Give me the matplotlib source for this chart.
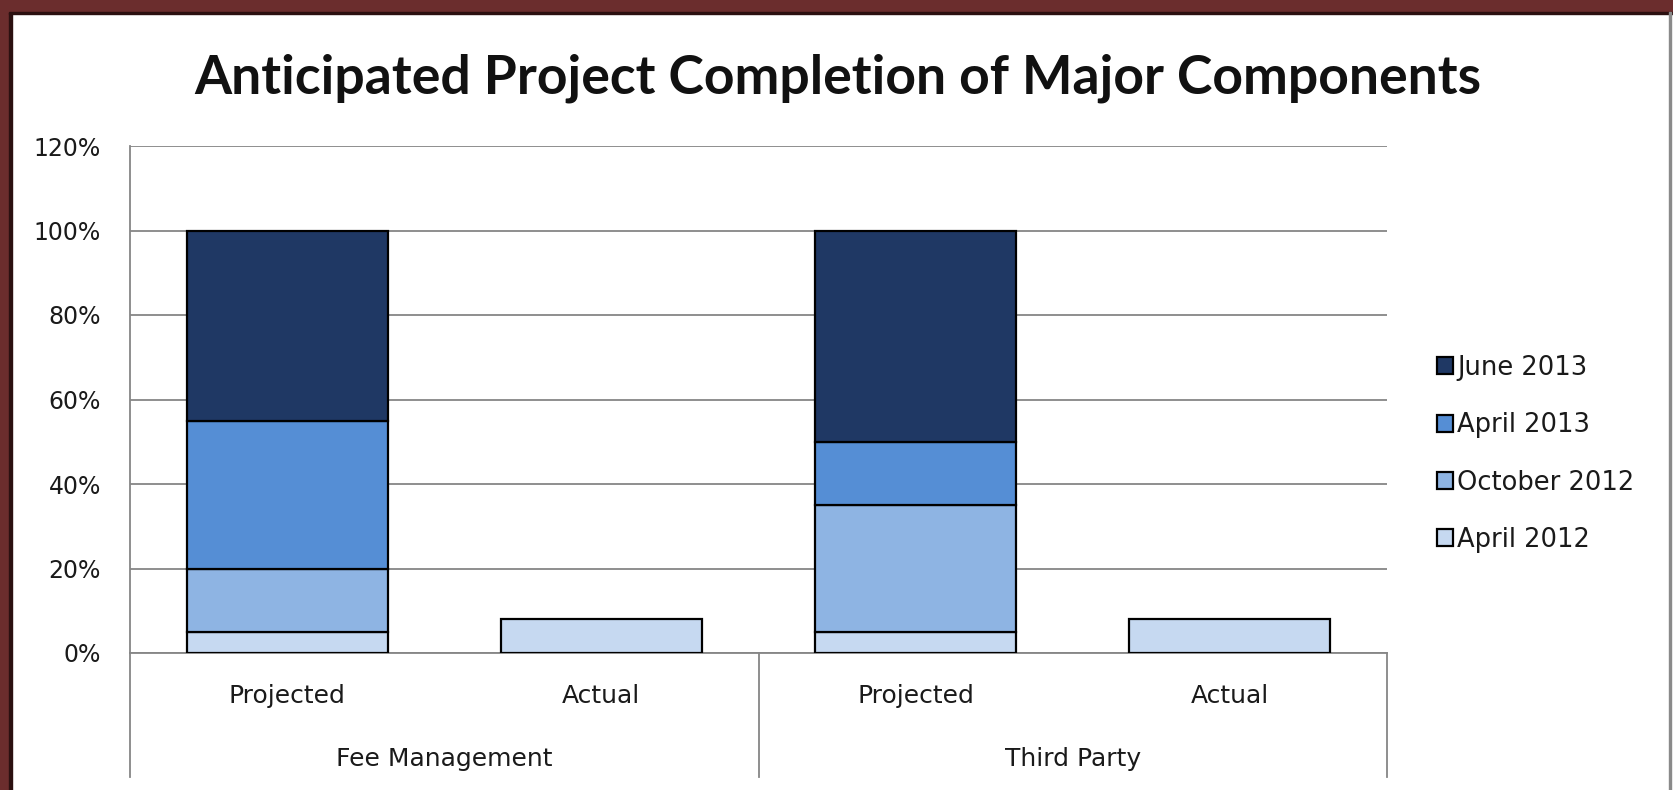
import matplotlib.pyplot as plt
from matplotlib.patches import Rectangle
from matplotlib.ticker import FuncFormatter

# chart data (percent of completion)
groups = ['Fee Management', 'Third Party']
bar_labels = ['Projected', 'Actual', 'Projected', 'Actual']
series = ['April 2012', 'October 2012', 'April 2013', 'June 2013']
apr_2012 = [5, 8, 5, 8]
oct_2012 = [15, 0, 30, 0]
apr_2013 = [35, 0, 15, 0]
jun_2013 = [45, 0, 50, 0]
yticks = [0, 20, 40, 60, 80, 100, 120]

colors = ['#C6D9F1', '#8EB4E3', '#558ED5', '#1F3864']
grid_col = '#868686'
txt_col = '#1A1A1A'

fig = plt.figure(figsize=(16.73, 7.9), dpi=100)
ax = fig.add_axes([130 / 1673, 1 - 653 / 790, (1387 - 130) / 1673, (653 - 146) / 790])

x = list(range(len(bar_labels)))
bottoms = [0] * len(x)
handles = []
for name, vals, col in zip(series, [apr_2012, oct_2012, apr_2013, jun_2013], colors):
    idx = [i for i in x if vals[i] > 0]
    bars = ax.bar([x[i] for i in idx], [vals[i] for i in idx], width=0.64,
                  bottom=[bottoms[i] for i in idx], color=col,
                  edgecolor='black', linewidth=1.6, label=name, zorder=3)
    handles.append(bars)
    bottoms = [b + v for b, v in zip(bottoms, vals)]

ax.set_xlim(-0.5, 3.5)
ax.set_ylim(0, 120)
ax.set_yticks(yticks)
ax.yaxis.set_major_formatter(FuncFormatter(lambda v, p: '{:.0f}%'.format(v)))
ax.set_xticks([])
ax.grid(axis='y', color=grid_col, linewidth=1.3, zorder=0)
for s in ['top', 'right']:
    ax.spines[s].set_visible(False)
ax.spines['left'].set_color(grid_col)
ax.spines['bottom'].set_color(grid_col)
ax.spines['left'].set_linewidth(1.3)
ax.spines['bottom'].set_linewidth(1.3)
ax.tick_params(axis='y', length=0, pad=21, labelsize=17, labelcolor=txt_col)

# two level category axis under the plot
trans = ax.get_xaxis_transform()
for xd in [-0.5, 1.5, 3.5]:
    ax.plot([xd, xd], [0, -0.245], transform=trans, color=grid_col,
            linewidth=1.3, clip_on=False)
for i, lab in enumerate(bar_labels):
    ax.text(i, -0.085, lab, transform=trans, ha='center', va='center',
            fontsize=18, color=txt_col)
for g, lab in enumerate(groups):
    ax.text(2 * g + 0.5, -0.209, lab, transform=trans, ha='center', va='center',
            fontsize=18, color=txt_col)

fig.text(0.501, 1 - 78 / 790, 'Anticipated Project Completion of Major Components',
         ha='center', va='center', fontsize=38.5, fontweight='bold', family='Lato',
         color='#111111')

leg = fig.legend(handles[::-1], series[::-1], loc='center left',
                 bbox_to_anchor=(1437 / 1673, 1 - 454 / 790), frameon=False,
                 handlelength=0.64, handleheight=0.64,
                 handletextpad=0.15, labelspacing=1.22, borderpad=0,
                 borderaxespad=0, prop={'size': 18.5})
for t in leg.get_texts():
    t.set_color(txt_col)

# outer maroon frame
W, H = 1673, 790
fig.add_artist(Rectangle((0, 0), 9 / W, 1, transform=fig.transFigure,
                         color='#6B2D2D', zorder=10))
fig.add_artist(Rectangle((9 / W, 0), 3 / W, 1 - 12 / H, transform=fig.transFigure,
                         color='#2B1010', zorder=10))
fig.add_artist(Rectangle((0, 1 - 12 / H), 1, 12 / H, transform=fig.transFigure,
                         color='#6B2D2D', zorder=10))
fig.add_artist(Rectangle((9 / W, 1 - 14 / H), 1, 2 / H, transform=fig.transFigure,
                         color='#2B1010', zorder=10))
fig.add_artist(Rectangle((1 - 4 / W, 0), 2 / W, 1 - 12 / H, transform=fig.transFigure,
                         color='#8A8A8A', zorder=10))

fig.savefig('out.png', dpi=100)
